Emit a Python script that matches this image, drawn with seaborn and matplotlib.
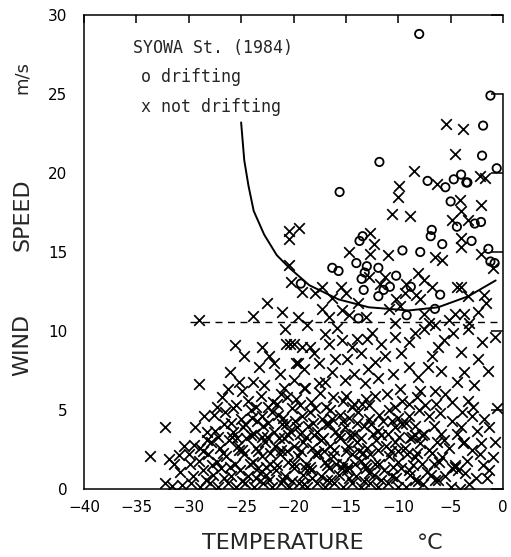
import matplotlib
matplotlib.use("Agg")
import matplotlib.pyplot as plt
import seaborn as sns

# drifting snow observed (open circles)
drift_temp = [-8.0, -1.2, -1.9, -2.0, -11.8, -0.6, -15.6, -7.2, -5.5, -4.7,
              -4.0, -3.5, -3.4, -5.0, -4.4, -2.7, -2.1, -6.8, -6.9, -5.8,
              -3.0, -9.6, -7.9, -1.4, -1.2, -0.8, -13.7, -13.4, -16.3, -15.7,
              -14.0, -13.0, -13.5, -13.2, -11.9, -10.2, -19.3, -13.3, -11.4, -10.8,
              -11.9, -8.8, -6.0, -6.5, -9.2, -13.8]
drift_speed = [28.8, 24.9, 23.0, 21.1, 20.7, 20.3, 18.8, 19.5, 19.1, 19.6,
               19.9, 19.4, 19.4, 18.2, 16.6, 16.8, 16.9, 16.4, 16.0, 15.5,
               15.7, 15.1, 15.0, 15.2, 14.4, 14.3, 15.7, 16.0, 14.0, 13.8,
               14.3, 14.1, 13.3, 13.7, 14.0, 13.5, 13.0, 12.6, 12.6, 12.8,
               12.2, 12.8, 12.3, 11.4, 11.0, 10.8]

# no drifting (crosses)
nodrift_temp = [
    # above the dashed line
    -5.4, -3.8, -4.6, -8.5, -9.9, -10.0, -6.3, -2.2, -1.7, -10.6,
    -8.9, -2.1, -4.1, -4.0, -4.9, -3.3, -4.0, -4.0, -2.1, -1.0,
    -6.5, -5.8, -20.4, -19.5, -20.4, -14.7, -12.7, -12.3, -12.7, -20.4,
    -20.2, -19.2, -17.3, -17.9, -15.5, -15.0, -16.3, -12.8, -11.3, -8.1,
    -7.5, -6.8, -4.4, -4.0, -3.3, -1.8, -1.6, -9.4, -8.3, -7.9,
    -10.2, -9.8, -10.9, -13.8, -15.4, -17.3, -16.6, -21.1, -19.6, -18.7,
    -14.7, -13.1, -10.3, -7.5, -7.1, -6.5, -5.2, -4.6, -3.7, -3.2,
    -2.4, -22.5, -29.0, -23.9, -11.0, -9.3, -11.7,
    # between 6 and 10.5 m/s
    -25.6, -24.7, -23.0, -22.3, -21.9, -20.7, -20.0, -19.2, -18.4, -19.8,
    -19.0, -29.0, -26.1, -26.3, -25.2, -24.9, -23.9, -22.8, -20.9, -20.0,
    -19.0, -17.6, -20.8, -20.3, -16.6, -15.4, -13.9, -13.0, -14.4, -10.3,
    -8.4, -7.5, -5.6, -3.3, -0.8, -19.6, -17.6, -16.0, -14.9, -12.2,
    -11.3, -9.7, -9.0, -6.8, -5.9, -4.0, -3.7, -2.4, -1.4, -18.9,
    -17.0, -15.1, -13.2, -11.9, -9.8, -7.9, -6.5, -18.0, -17.0, -15.8,
    -12.5, -11.6, -9.0, -6.2, -4.8, -2.0, -13.6, -12.9, -10.5, -8.1,
    -7.2, -4.4, -2.8, -16.3, -14.2, -21.3, -23.3,
    # below 6 m/s, sparse edges
    -27.3, -25.8, -27.6, -32.3, -33.7, -31.9, -30.9, -29.9, -28.3, -28.3,
    -29.5, -32.3, -30.6, -4.9, -3.3, -2.9, -0.6, -1.3, -2.1, -1.0,
    -3.7, -4.0, -5.9, -8.4, -7.5, -9.0, -7.1, -8.4, -6.8, -4.6,
    -10.9, -10.3, -11.9, -12.8, -14.4, -13.5, -8.7, -5.6, -3.8, -4.9,
    -4.3, -2.6, -4.1, -6.5, -8.4, -10.0,
    # dense core, row by row
    -26.8, -24.3, -23.1, -22.0, -21.2, -19.8, -18.3, -17.5, -16.2, -15.3,
    -12.2, -11.1, -9.6, -8.2, -6.4, -5.5,
    -28.5, -26.5, -25.0, -24.1, -23.0, -22.1, -21.0, -20.1, -19.2, -18.4,
    -17.3, -16.5, -15.6, -14.7, -13.8, -11.8, -10.0, -8.0, -6.0, -3.0,
    -1.8,
    -29.4, -27.5, -26.6, -25.8, -24.8, -23.8, -22.9, -21.9, -21.1, -20.3,
    -19.4, -18.6, -17.8, -16.9, -16.0, -15.1, -14.2, -13.3, -11.0, -9.6,
    -6.6, -4.9, -2.5,
    -30.5, -28.9, -27.9, -27.0, -26.2, -25.3, -24.5, -23.6, -22.7, -21.8,
    -20.9, -20.0, -19.1, -18.2, -17.4, -16.5, -15.6, -14.8, -13.9, -13.0,
    -12.1, -11.2, -10.3, -9.4, -7.9, -6.3, -3.0,
    -31.4, -30.0, -29.0, -28.2, -27.3, -26.4, -25.6, -24.7, -23.9, -23.0,
    -22.2, -21.3, -20.5, -19.6, -18.8, -17.9, -17.0, -16.2, -15.3, -14.4,
    -13.6, -12.7, -11.8, -10.9, -10.0, -9.2, -7.7, -5.8, -3.4, -1.9,
    -30.8, -29.6, -28.6, -27.7, -26.9, -26.0, -25.1, -24.3, -23.4, -22.6,
    -21.7, -20.8, -20.0, -19.1, -18.3, -17.4, -16.6, -15.7, -14.9, -14.0,
    -13.1, -12.3, -11.4, -10.6, -9.7, -8.9, -7.3, -5.5, -3.6, -1.3,
    -31.6, -29.8, -28.9, -28.0, -27.2, -26.3, -25.5, -24.6, -23.8, -22.9,
    -22.1, -21.2, -20.4, -19.5, -18.7, -17.8, -17.0, -16.1, -15.3, -14.4,
    -13.6, -12.7, -11.9, -11.0, -9.3, -7.6, -5.0, -3.2,
    -24.0, -22.5, -21.5, -20.6, -19.7, -18.9, -18.0, -17.1, -16.3, -15.4,
    -14.6, -13.7, -12.8, -23.2, -24.9, -25.9, -21.0, -19.0, -16.8, -14.1,
    -12.4, -22.4, -20.6, -17.9, -15.0, -13.1, -11.5, -10.7, -9.0, -8.4,
    -7.4, -6.9, -6.1, -5.2, -4.4, -3.9, -2.2, -1.5, -0.8,
    # second layer in the densest part
    -28.4, -26.6, -24.9, -23.6, -22.3, -20.1, -18.2, -16.4, -14.7, -13.3,
    -11.6, -10.2, -8.1, -6.2,
    -27.8, -26.1, -24.2, -22.6, -21.6, -20.0, -18.4, -16.8, -15.9, -14.8,
    -13.2, -12.2, -10.5, -8.6, -6.6, -4.6,
    -28.6, -26.7, -25.2, -23.4, -22.2, -21.2, -19.3, -17.7, -16.1, -15.0,
    -13.4, -11.9, -10.0, -8.2, -7.1,
    -27.2, -25.4, -24.1, -23.0, -21.4, -20.5, -18.8, -17.2, -15.7, -14.4,
    -13.6, -11.6, -9.9, -8.9, -7.7,
    -26.0, -24.6, -23.5, -22.4, -20.7, -19.9, -18.1, -16.6, -15.3, -13.9,
    -12.6, -10.6, -9.3,
    -25.5, -23.6, -21.6, -19.4, -16.9, -14.2, -12.8, -10.3, -9.0,
]
nodrift_speed = [
    23.1, 22.8, 21.2, 20.1, 19.2, 18.5, 19.3, 19.8, 19.7, 17.4,
    17.3, 18.0, 18.3, 17.6, 17.0, 17.0, 15.9, 15.3, 14.9, 14.0,
    14.7, 14.5, 16.3, 16.5, 15.8, 15.0, 16.2, 15.5, 14.9, 14.2,
    13.1, 12.5, 12.8, 12.4, 12.8, 12.4, 12.1, 13.4, 13.4, 13.7,
    13.2, 12.8, 12.8, 12.8, 12.2, 12.3, 11.8, 12.4, 12.3, 12.0,
    12.0, 11.6, 11.4, 11.8, 11.3, 11.4, 10.9, 11.2, 10.9, 10.4,
    11.0, 10.9, 10.5, 11.1, 10.5, 10.4, 10.7, 11.1, 11.1, 10.5,
    11.2, 11.75, 10.7, 10.95, 14.8, 13.0, 13.0,
    9.1, 8.4, 9.0, 8.4, 8.0, 9.2, 9.2, 9.0, 9.0, 8.0,
    7.6, 6.65, 7.4, 6.3, 6.8, 6.2, 6.8, 6.6, 6.4, 6.9,
    6.4, 6.7, 10.1, 9.2, 9.2, 9.4, 9.5, 9.5, 9.0, 9.6,
    9.85, 10.1, 9.4, 10.1, 9.6, 7.95, 7.95, 8.2, 8.2, 8.05,
    8.4, 8.6, 7.7, 8.4, 7.5, 8.7, 7.4, 8.2, 7.5, 6.4,
    6.8, 6.9, 6.7, 7.0, 6.3, 6.2, 6.2, 8.6, 9.8, 10.2,
    9.9, 9.2, 9.3, 9.0, 9.9, 9.3, 8.6, 7.6, 7.3, 7.1,
    7.7, 6.8, 6.6, 7.4, 7.3, 7.3, 7.7,
    5.2, 5.1, 4.7, 3.9, 2.1, 1.9, 2.15, 1.6, 3.6, 3.1,
    2.8, 0.36, 0.25, 5.5, 5.6, 5.2, 5.1, 3.9, 2.9, 2.0,
    3.0, 3.9, 3.5, 3.4, 3.5, 4.6, 4.6, 2.0, 2.3, 1.5,
    5.0, 3.9, 3.7, 4.4, 5.2, 5.4, 3.3, 3.1, 2.9, 1.3,
    1.2, 0.7, 0.0, 0.6, 0.6, 0.15,
    5.8, 5.6, 5.9, 5.5, 6.0, 5.7, 5.5, 6.1, 5.8, 5.6,
    5.9, 6.0, 5.6, 5.8, 5.4, 6.0,
    4.6, 4.9, 4.4, 5.0, 4.6, 4.9, 4.5, 5.1, 4.6, 4.9,
    4.4, 5.0, 4.7, 4.5, 4.9, 4.7, 4.5, 5.0, 4.8, 4.6,
    4.4,
    3.9, 3.7, 4.1, 3.6, 3.9, 3.5, 4.0, 3.6, 4.1, 3.7,
    3.5, 4.0, 3.6, 4.1, 3.6, 3.9, 3.5, 4.0, 3.5, 4.1,
    4.0, 4.3, 3.7,
    2.7, 2.6, 3.0, 2.6, 3.1, 2.7, 3.2, 2.6, 3.0, 2.7,
    3.2, 2.7, 3.0, 2.6, 3.1, 2.7, 3.2, 2.7, 3.0, 2.6,
    3.1, 2.7, 3.0, 2.6, 2.9, 3.0, 2.5,
    1.6, 2.2, 1.8, 2.2, 1.7, 2.1, 1.6, 2.2, 1.7, 2.1,
    1.6, 2.2, 1.7, 2.1, 1.6, 2.2, 1.7, 2.1, 1.6, 2.2,
    1.8, 2.2, 1.6, 2.1, 1.7, 2.2, 1.6, 2.0, 1.8, 1.5,
    1.1, 0.8, 1.2, 0.9, 1.3, 0.8, 1.2, 0.8, 1.3, 0.9,
    1.2, 0.8, 1.3, 0.9, 1.2, 0.8, 1.3, 0.9, 1.2, 0.8,
    1.3, 0.9, 1.2, 0.8, 1.3, 0.9, 1.1, 0.8, 1.0, 1.2,
    0.2, 0.4, 0.1, 0.4, 0.1, 0.4, 0.1, 0.4, 0.1, 0.4,
    0.1, 0.4, 0.1, 0.4, 0.1, 0.4, 0.1, 0.4, 0.1, 0.4,
    0.1, 0.4, 0.1, 0.4, 0.1, 0.3, 0.1, 0.3,
    4.5, 3.3, 4.7, 2.4, 3.9, 1.3, 3.4, 2.4, 4.4, 1.3,
    3.4, 2.4, 1.0, 1.0, 2.5, 3.3, 0.6, 0.3, 0.6, 1.6,
    3.5, 5.2, 5.8, 5.1, 5.9, 5.7, 4.3, 2.4, 1.2, 4.0,
    5.3, 0.9, 1.7, 2.6, 3.5, 4.9, 2.2, 0.7, 3.0,
    0.6, 0.7, 0.5, 0.7, 0.6, 0.5, 0.7, 0.6, 0.7, 0.5,
    0.6, 0.7, 0.5, 0.6,
    1.5, 1.4, 1.6, 1.4, 1.5, 1.6, 1.4, 1.5, 1.6, 1.4,
    1.5, 1.6, 1.4, 1.5, 1.6, 1.4,
    2.4, 2.3, 2.5, 2.4, 2.3, 2.5, 2.4, 2.3, 2.5, 2.4,
    2.3, 2.5, 2.4, 2.3, 2.5,
    3.3, 3.2, 3.4, 3.3, 3.2, 3.4, 3.3, 3.2, 3.4, 3.3,
    3.2, 3.4, 3.3, 3.2, 3.4,
    4.2, 4.1, 4.3, 4.2, 4.1, 4.3, 4.2, 4.1, 4.3, 4.2,
    4.1, 4.3, 4.2,
    5.3, 5.2, 5.4, 5.3, 5.2, 5.4, 5.3, 5.2, 5.4,
]

# hand-drawn threshold curve and dashed limit
curve_temp = [-25.0, -24.7, -24.3, -23.8, -22.8, -21.6, -20.4, -18.5, -15.7,
              -12.8, -9.0, -6.2, -3.3, -0.7]
curve_speed = [23.2, 20.8, 19.2, 17.6, 16.1, 14.8, 14.0, 12.9, 12.0,
               11.5, 11.3, 11.5, 12.2, 13.2]
dash_speed = 10.55
dash_start = -29.9

sns.set_style("white")
plt.rcParams["font.family"] = ["DejaVu Sans"]

fig = plt.figure(figsize=(5.11, 5.57), dpi=100)
ax = fig.add_axes([84 / 511, 1 - 489 / 557, 419 / 511, 474 / 557])

sns.scatterplot(x=nodrift_temp, y=nodrift_speed, marker="x", s=58,
                color="black", linewidth=1.25, ax=ax, zorder=3)
sns.scatterplot(x=drift_temp, y=drift_speed, marker="o", s=36,
                color="none", edgecolor="black", linewidth=1.3, ax=ax, zorder=4)
sns.lineplot(x=curve_temp, y=curve_speed, color="black", linewidth=1.4,
             sort=False, ax=ax)
ax.hlines(dash_speed, dash_start, 0, colors="black", linewidth=1.0,
          linestyles=(0, (5, 4)))

ax.set_xlim(-40, 0)
ax.set_ylim(0, 30)
ax.set_xticks(range(-40, 1, 5))
ax.set_yticks(range(0, 31, 5))
ax.set_xlabel("")
ax.set_ylabel("")

ax.tick_params(axis="x", direction="in", length=6, width=1.1, top=True,
               labelsize=11, pad=8, colors="black")
ax.tick_params(axis="y", direction="in", length=9, width=1.1, right=True,
               labelsize=11, pad=12, colors="black")
for side in ["left", "bottom", "top", "right"]:
    ax.spines[side].set_linewidth(1.1)
    ax.spines[side].set_color("black")
ax.spines["right"].set_bounds(0, 25)

mono = "DejaVu Sans Mono"
ax.text(-35.35, 27.9, "SYOWA St. (1984)", family=mono, fontsize=12,
        va="center", ha="left")
ax.text(-34.6, 26.1, "o drifting", family=mono, fontsize=12,
        va="center", ha="left")
ax.text(-34.6, 24.2, "x not drifting", family=mono, fontsize=12,
        va="center", ha="left")

fig.text(22 / 511, 1 - 215 / 557, "SPEED", rotation=90, fontsize=16,
         ha="center", va="center")
fig.text(22 / 511, 1 - 345 / 557, "WIND", rotation=90, fontsize=16,
         ha="center", va="center")
fig.text(22 / 511, 1 - 77 / 557, "m/s", rotation=90, fontsize=13,
         ha="center", va="center")
fig.text(283 / 511, 1 - 543 / 557, "TEMPERATURE", fontsize=16,
         ha="center", va="center")
fig.text(430 / 511, 1 - 543 / 557, "°C", fontsize=16,
         ha="center", va="center")

fig.savefig("out.png", dpi=100)
